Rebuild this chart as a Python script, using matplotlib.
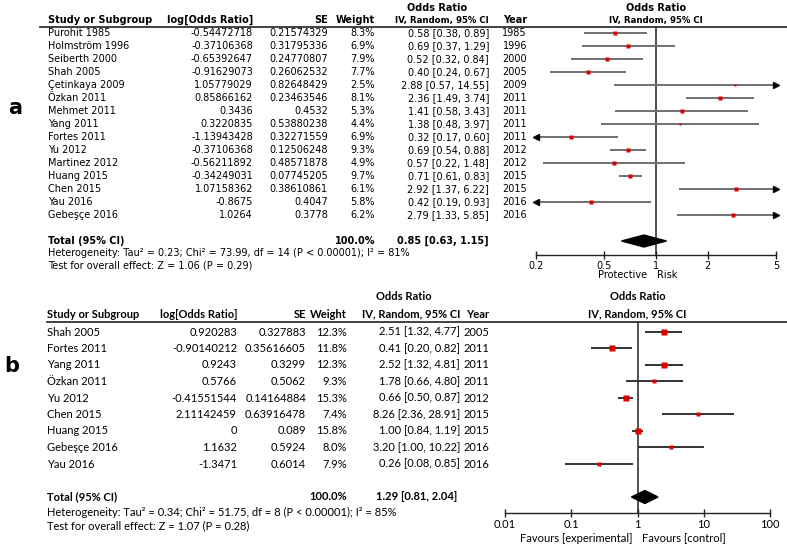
import numpy as np
import matplotlib.pyplot as plt

# ---- panel a data ----
studies_a = ["Purohit 1985", "Holmström 1996", "Seiberth 2000", "Shah 2005", "Çetinkaya 2009",
             "Özkan 2011", "Mehmet 2011", "Yang 2011", "Fortes 2011", "Yu 2012",
             "Martinez 2012", "Huang 2015", "Chen 2015", "Yau 2016", "Gebeşçe 2016"]
logor_a = ["-0.54472718", "-0.37106368", "-0.65392647", "-0.91629073", "1.05779029",
           "0.85866162", "0.3436", "0.3220835", "-1.13943428", "-0.37106368",
           "-0.56211892", "-0.34249031", "1.07158362", "-0.8675", "1.0264"]
se_a = ["0.21574329", "0.31795336", "0.24770807", "0.26062532", "0.82648429",
        "0.23463546", "0.4532", "0.53880238", "0.32271559", "0.12506248",
        "0.48571878", "0.07745205", "0.38610861", "0.4047", "0.3778"]
weight_a = [8.3, 6.9, 7.9, 7.7, 2.5, 8.1, 5.3, 4.4, 6.9, 9.3, 4.9, 9.7, 6.1, 5.8, 6.2]
or_a = [0.58, 0.69, 0.52, 0.40, 2.88, 2.36, 1.41, 1.38, 0.32, 0.69, 0.57, 0.71, 2.92, 0.42, 2.79]
lo_a = [0.38, 0.37, 0.32, 0.24, 0.57, 1.49, 0.58, 0.48, 0.17, 0.54, 0.22, 0.61, 1.37, 0.19, 1.33]
hi_a = [0.89, 1.29, 0.84, 0.67, 14.55, 3.74, 3.43, 3.97, 0.60, 0.88, 1.48, 0.83, 6.22, 0.93, 5.85]
year_a = [1985, 1996, 2000, 2005, 2009, 2011, 2011, 2011, 2011, 2012, 2012, 2015, 2015, 2016, 2016]
total_a = (0.85, 0.63, 1.15)
het_a = "Heterogeneity: Tau² = 0.23; Chi² = 73.99, df = 14 (P < 0.00001); I² = 81%"
test_a = "Test for overall effect: Z = 1.06 (P = 0.29)"
ticks_a = [0.2, 0.5, 1, 2, 5]
ticklabels_a = ["0.2", "0.5", "1", "2", "5"]

# ---- panel b data ----
studies_b = ["Shah 2005", "Fortes 2011", "Yang 2011", "Özkan 2011", "Yu 2012",
             "Chen 2015", "Huang 2015", "Gebeşçe 2016", "Yau 2016"]
logor_b = ["0.920283", "-0.90140212", "0.9243", "0.5766", "-0.41551544",
           "2.11142459", "0", "1.1632", "-1.3471"]
se_b = ["0.327883", "0.35616605", "0.3299", "0.5062", "0.14164884",
        "0.63916478", "0.089", "0.5924", "0.6014"]
weight_b = [12.3, 11.8, 12.3, 9.3, 15.3, 7.4, 15.8, 8.0, 7.9]
or_b = [2.51, 0.41, 2.52, 1.78, 0.66, 8.26, 1.00, 3.20, 0.26]
lo_b = [1.32, 0.20, 1.32, 0.66, 0.50, 2.36, 0.84, 1.00, 0.08]
hi_b = [4.77, 0.82, 4.81, 4.80, 0.87, 28.91, 1.19, 10.22, 0.85]
year_b = [2005, 2011, 2011, 2011, 2012, 2015, 2015, 2016, 2016]
total_b = (1.29, 0.81, 2.04)
het_b = "Heterogeneity: Tau² = 0.34; Chi² = 51.75, df = 8 (P < 0.00001); I² = 85%"
test_b = "Test for overall effect: Z = 1.07 (P = 0.28)"
ticks_b = [0.01, 0.1, 1, 10, 100]
ticklabels_b = ["0.01", "0.1", "1", "10", "100"]

W, H = 787, 550
fig = plt.figure(figsize=(W / 100, H / 100), dpi=100)
ov = fig.add_axes([0, 0, 1, 1])
ov.set_xlim(0, W)
ov.set_ylim(H, 0)
ov.axis('off')


def panel(studies, logor, se, weight, orv, lo, hi, year, total, het, test,
          ticks, ticklabels, lay, font, fs, left_lab, right_lab, line_col, msc):
    row0, step = lay['row0'], lay['step']
    ys = [row0 + i * step for i in range(len(studies))]
    ytot = row0 + (len(studies) + 1) * step
    cx = lay['cols']
    kw = dict(family=font, fontsize=fs, va='center')
    hkw = dict(family=font, va='center', fontweight='bold')
    hfs, cfs = lay['hfs'], lay['cfs']

    # column headers
    ov.text(lay['or_hdr'], lay['hdr1'], "Odds Ratio", ha='center', fontsize=hfs, **hkw)
    hdrs = [("Study or Subgroup", cx[0], 'left', hfs), ("log[Odds Ratio]", cx[1], 'right', hfs),
            ("SE", cx[2], 'right', hfs), ("Weight", cx[3], 'right', hfs),
            ("IV, Random, 95% CI", cx[4], 'right', cfs), ("Year", cx[5], 'right', hfs)]
    for t, x, ha, size in hdrs:
        ov.text(x, lay['hdr2'], t, ha=ha, fontsize=size, **hkw)
    ov.plot([lay['line_x0'], W], [lay['hline'], lay['hline']], color='#333333', lw=1.3)

    for i, y in enumerate(ys):
        ov.text(cx[0], y, studies[i], ha='left', **kw)
        ov.text(cx[1], y, logor[i], ha='right', **kw)
        ov.text(cx[2], y, se[i], ha='right', **kw)
        ov.text(cx[3], y, f"{weight[i]:.1f}%", ha='right', **kw)
        ov.text(cx[4], y, f"{orv[i]:.2f} [{lo[i]:.2f}, {hi[i]:.2f}]", ha='right', **kw)
        ov.text(cx[5], y, str(year[i]), ha='right', **kw)

    ov.text(cx[0], ytot, "Total (95% CI)", ha='left', fontweight='bold', **kw)
    ov.text(cx[3], ytot, "100.0%", ha='right', fontweight='bold', **kw)
    ov.text(cx[4] - lay['tot_shift'], ytot,
            f"{total[0]:.2f} [{total[1]:.2f}, {total[2]:.2f}]",
            ha='right', fontweight='bold', **kw)
    ov.text(cx[0], ytot + lay['het_dy'], het, ha='left', **kw)
    ov.text(cx[0], ytot + lay['het_dy'] + lay['test_dy'], test, ha='left', **kw)

    # forest plot axes
    x0, x1 = lay['px']
    ax = fig.add_axes([x0 / W, 1 - lay['axis_y'] / H, (x1 - x0) / W,
                       (lay['axis_y'] - lay['hline']) / H])
    ax.set_xscale('log')
    ax.set_xlim(ticks[0], ticks[-1])
    ax.set_ylim(lay['axis_y'], lay['hline'])
    ax.patch.set_alpha(0)
    for s in ['top', 'right', 'left']:
        ax.spines[s].set_visible(False)
    ax.spines['bottom'].set_color('#222222')
    ax.spines['bottom'].set_linewidth(1.0)
    ax.set_yticks([])
    ax.set_xticks(ticks)
    ax.set_xticklabels(ticklabels, family=font, fontsize=fs)
    ax.minorticks_off()
    ax.tick_params(axis='x', direction='inout', length=6, width=1.0, pad=1, color='#222222')
    ax.axvline(1, color='#222222', lw=1.1)

    # forest plot header, centred on the line of no effect
    xc = ax.transData.transform((1, 0))[0] * W / fig.bbox.width
    ov.text(xc, lay['hdr1'], "Odds Ratio", ha='center', fontsize=hfs, **hkw)
    ov.text(xc, lay['hdr2'], "IV, Random, 95% CI", ha='center', fontsize=cfs, **hkw)

    xmin, xmax = ticks[0], ticks[-1]
    for i, y in enumerate(ys):
        xl, xr = max(lo[i], xmin), min(hi[i], xmax)
        ax.plot([xl, xr], [y, y], color=line_col, lw=1.4, solid_capstyle='butt')
        if hi[i] > xmax:
            ax.plot(xmax, y, marker='>', color='black', ms=4.5, clip_on=False)
        if lo[i] < xmin:
            ax.plot(xmin, y, marker='<', color='black', ms=4.5, clip_on=False)
        ax.plot(orv[i], y, marker='s', color='#dd0000', mec='none',
                ms=msc * np.sqrt(weight[i]), zorder=5)

    h = lay['dia_h']
    ax.fill([total[1], total[0], total[2], total[0]], [ytot, ytot - h, ytot, ytot + h],
            color='black', zorder=6)

    ov.text(lay['lab_x'] - 5, lay['lab_y'], left_lab, ha='right', **kw)
    ov.text(lay['lab_x'] + 5, lay['lab_y'], right_lab, ha='left', **kw)


lay_a = dict(row0=33, step=13, cols=[48, 253, 328, 375, 489, 527], or_hdr=437,
             hdr1=8, hdr2=20, hline=27, line_x0=40, tot_shift=0, het_dy=12.5, test_dy=12.5,
             px=(536, 776), axis_y=255, dia_h=6, lab_x=652, lab_y=275, hfs=7, cfs=6.2)
panel(studies_a, logor_a, se_a, weight_a, or_a, lo_a, hi_a, year_a, total_a, het_a, test_a,
      ticks_a, ticklabels_a, lay_a, 'DejaVu Sans', 7, "Protective", "Risk", '#707070', 1.0)

lay_b = dict(row0=332, step=16.5, cols=[47, 237, 306, 347, 460, 489], or_hdr=404,
             hdr1=297, hdr2=314, hline=322, line_x0=47, tot_shift=3, het_dy=15, test_dy=13.5,
             px=(505, 770), axis_y=513, dia_h=6.5, lab_x=637, lab_y=538, hfs=8, cfs=8)
panel(studies_b, logor_b, se_b, weight_b, or_b, lo_b, hi_b, year_b, total_b, het_b, test_b,
      ticks_b, ticklabels_b, lay_b, 'Lato', 8, "Favours [experimental]", "Favours [control]",
      '#333333', 1.15)

ov.text(8, 108, "a", fontsize=15, fontweight='bold', family='DejaVu Sans', ha='left', va='center')
ov.text(4, 366, "b", fontsize=15, fontweight='bold', family='DejaVu Sans', ha='left', va='center')

fig.savefig("out.png", dpi=100)
